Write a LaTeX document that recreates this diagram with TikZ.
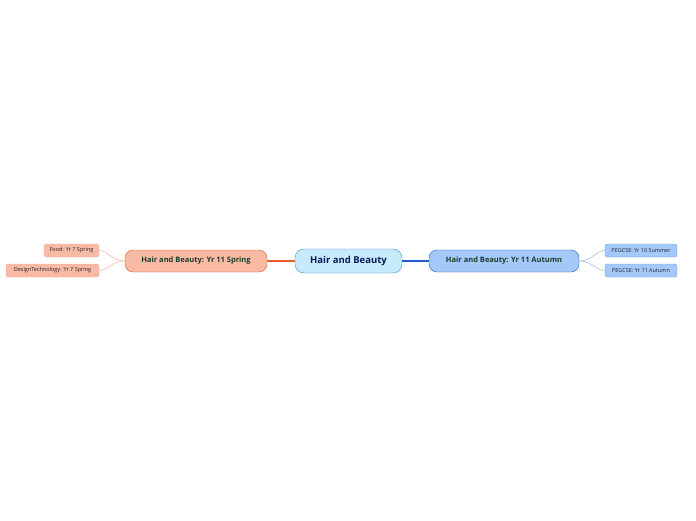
\documentclass[tikz,border=0pt]{standalone}
\usepackage{fontspec}
\setmainfont{Open Sans}
\definecolor{cfill}{HTML}{C5EBFD}\definecolor{cdraw}{HTML}{3D8FD4}
\definecolor{rfill}{HTML}{F8B9A5}\definecolor{rdraw}{HTML}{EC5A2E}
\definecolor{bfill}{HTML}{A3C9F8}\definecolor{bdraw}{HTML}{1B5FCF}
\definecolor{txt}{HTML}{1D3B2C}
\begin{document}
\begin{tikzpicture}[x=1pt,y=-1pt,
 box/.style={rounded corners=#1,inner sep=0pt,font=\bfseries,text=txt},
 sm/.style={rounded corners=2.5pt,inner sep=0pt,font=\fontsize{5.5}{6}\selectfont,text=black!85}]
\useasboundingbox (0,0) rectangle (696,520);
\node[box=9pt,draw=cdraw,fill=cfill,minimum width=107pt,minimum height=24pt,font=\bfseries\fontsize{9.5}{11}\selectfont,text=txt!60!blue!70!black] (c) at (348.5,261) {Hair and Beauty};
\node[box=8pt,draw=rdraw,fill=rfill,minimum width=142pt,minimum height=22pt,font=\bfseries\fontsize{7.5}{9}\selectfont] (l) at (196,261) {Hair and Beauty: Yr 11 Spring};
\node[box=8pt,draw=bdraw,fill=bfill,minimum width=150pt,minimum height=22pt,font=\bfseries\fontsize{7.5}{9}\selectfont] (r) at (504,261) {Hair and Beauty: Yr 11 Autumn};
\node[sm,draw=rdraw!50,fill=rfill,minimum width=55pt,minimum height=13pt] (l1) at (71.5,250.5) {Food: Yr 7 Spring};
\node[sm,draw=rdraw!50,fill=rfill,minimum width=93pt,minimum height=13pt] (l2) at (52.5,270.5) {DesignTechnology: Yr 7 Spring};
\node[sm,draw=bdraw!60,fill=bfill,minimum width=72pt,minimum height=13pt] (r1) at (641,250.5) {PEGCSE: Yr 10 Summer};
\node[sm,draw=bdraw!60,fill=bfill,minimum width=72pt,minimum height=13pt] (r2) at (641,270.5) {PEGCSE: Yr 11 Autumn};
\draw[rdraw,line width=1.3pt] (c.west) -- (l.east);
\draw[bdraw,line width=1.3pt] (c.east) -- (r.west);
\draw[rdraw!40,line width=0.6pt] (l.west) .. controls (112,261) and (108,250.5) .. (l1.east);
\draw[rdraw!40,line width=0.6pt] (l.west) .. controls (112,261) and (108,270.5) .. (l2.east);
\draw[bdraw!40,line width=0.6pt] (r.east) .. controls (592,261) and (596,250.5) .. (r1.west);
\draw[bdraw!40,line width=0.6pt] (r.east) .. controls (592,261) and (596,270.5) .. (r2.west);
\end{tikzpicture}
\end{document}
